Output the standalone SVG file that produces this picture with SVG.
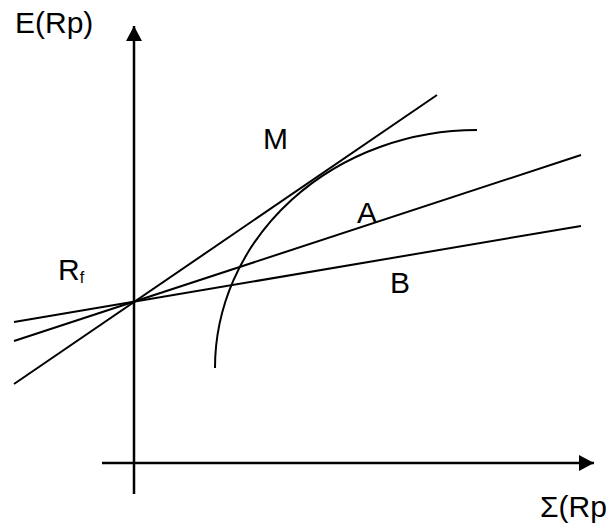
<svg xmlns="http://www.w3.org/2000/svg" width="611" height="524" viewBox="0 0 611 524">
<style>
.ax{stroke:#000;stroke-width:2.5;fill:none}
.ln{stroke:#000;stroke-width:2;fill:none}
.t{font-family:"Liberation Sans",Arial,sans-serif;font-size:30px;fill:#000}
</style>
<defs>
<marker id="ah" markerUnits="userSpaceOnUse" markerWidth="16" markerHeight="16" refX="15" refY="8" orient="auto">
<path d="M0,0 L15,8 L0,16 Z" fill="#000"/>
</marker>
</defs>
<rect width="611" height="524" fill="#fff"/>
<g id="axes">
<line class="ax" x1="134" y1="494" x2="134" y2="26" marker-end="url(#ah)"/>
<line class="ax" x1="102" y1="463" x2="594" y2="463" marker-end="url(#ah)"/>
</g>
<g id="connectors">
<line class="ln" x1="14" y1="384" x2="437" y2="95"/>
<line class="ln" x1="14" y1="341" x2="581" y2="155"/>
<line class="ln" x1="14" y1="322" x2="581" y2="226"/>
<path class="ln" d="M215,368 A262,238 0 0 1 477,130"/>
</g>
<g id="labels">
<text class="t" x="15" y="33">E(Rp)</text>
<text class="t" x="263" y="149">M</text>
<text class="t" x="357" y="223">A</text>
<text class="t" x="390" y="293">B</text>
<text class="t" x="58" y="280" font-size="28">R<tspan font-size="16" dy="3">f</tspan></text>
<text class="t" x="540" y="517">Σ(Rp</text>
</g>
</svg>
